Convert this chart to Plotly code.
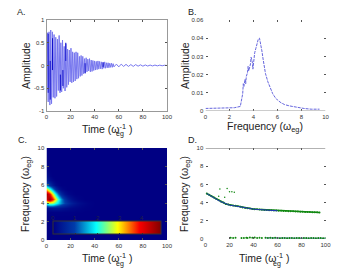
import plotly.graph_objects as go

# Panel A: successive extremes of the oscillation
a_time = [0,0.7,1.4,2.1,2.8,3.5,4.2,4.9,5.6,6.3,7,7.7,8.4,9.1,9.8,10.5,11.2,11.9,12.6,13.3,14,14.7,15.4,16.1,16.8,17.5,18.2,18.9,19.6,20.3,21,21.7,22.4,23.1,23.8,24.5,25.2,25.9,26.6,27.3,28,28.7,29.4,30.1,30.8,31.5,32.2,32.9,33.6,34.3,35,35.7,36.4,37.1,37.8,38.5,39.2,39.9,40.6,41.3,42,42.7,43.4,44.1,44.8,45.5,46.2,46.9,47.6,48.3,49,49.7,50.4,51.1,51.8,52.5,53.2,53.9,54.6,55.3,56,58,60,62,64,66,68,70,72,74,76,78,80,82,84,86,88,90,92,94,96,98,100]
a_amp = [0.1,0.72,-0.8,0.74,-0.87,0.78,-0.84,0.74,-0.7,0.68,-0.72,0.62,-0.68,0.58,-0.55,0.66,-0.6,0.5,-0.58,0.56,-0.5,0.42,-0.56,0.48,-0.48,0.36,-0.42,0.34,-0.36,0.38,-0.38,0.3,-0.36,0.28,-0.34,0.3,-0.3,0.28,-0.28,0.2,-0.24,0.22,-0.22,0.2,-0.18,0.15,-0.17,0.17,-0.14,0.14,-0.12,0.15,-0.14,0.12,-0.13,0.11,-0.11,0.1,-0.1,0.09,-0.09,0.1,-0.08,0.09,-0.07,0.08,-0.08,0.07,-0.06,0.08,-0.06,0.06,-0.05,0.06,-0.05,0.05,-0.04,0.05,-0.04,0.04,-0.03,0.03,-0.03,0.03,-0.02,0.025,-0.02,0.02,-0.02,0.02,-0.015,0.015,-0.015,0.012,-0.012,0.01,-0.01,0.01,-0.008,0.008,-0.006,0.006,0]
# darker overlapping strokes of panel A
a_dark_t = [1.4,1.4,None,3.1,3.1,None,5,5,None,11.5,11.5,None,13.6,13.6,None,16,16,None,32,32,None,47,47]
a_dark_y = [-0.6,0.7,None,-0.75,0.1,None,0.6,-0.1,None,-0.55,-0.2,None,-0.45,-0.1,None,0.5,0.1,None,-0.17,0.05,None,0.07,-0.03]

# Panel B: spectrum
b_freq = [0,0.6,1.2,1.8,2.4,2.9,3.0,3.1,3.15,3.2,3.3,3.35,3.4,3.5,3.55,3.6,3.7,3.75,3.8,3.9,3.95,4.0,4.1,4.2,4.3,4.4,4.5,4.6,4.7,4.8,4.9,5.0,5.2,5.4,5.6,5.8,6.0,6.3,6.6,7.0,7.4,7.8,8.2,8.8,9.5]
b_amp = [0.0014,0.0014,0.0018,0.0018,0.0018,0.0025,0.006,0.0095,0.015,0.0135,0.0175,0.015,0.019,0.021,0.0245,0.022,0.0245,0.026,0.0295,0.027,0.023,0.028,0.032,0.0345,0.037,0.0395,0.04,0.037,0.033,0.0285,0.0245,0.0205,0.016,0.0125,0.0095,0.0075,0.006,0.0045,0.0035,0.0028,0.0022,0.0018,0.0014,0.001,0.001]

# Panel C: time-frequency amplitude, sparse table
c_time = [0,2.5,5,7.5,10,12.5,15,17.5,20,22.5,25,27.5,30,32.5,35,37.5,40]
c_freq = [3,3.5,4,4.5,5,5.5,6,6.5,7,7.5,8]
c_z = [
 [0.02,0.03,0.04,0.04,0.04,0.04,0.03,0.03,0.02,0.02,0.01,0.01,0.01,0,0,0,0],
 [0.2,0.3,0.35,0.35,0.35,0.3,0.25,0.2,0.15,0.12,0.1,0.08,0.05,0.03,0.02,0.01,0],
 [2.2,2.6,2.5,2.1,1.7,1.3,1.0,0.75,0.55,0.4,0.28,0.2,0.14,0.09,0.05,0.03,0.01],
 [4.2,4.7,3.9,2.9,2.0,1.3,0.85,0.5,0.3,0.17,0.1,0.05,0.03,0,0,0,0],
 [4.6,4.0,2.9,1.9,1.1,0.6,0.3,0.15,0.08,0.03,0,0,0,0,0,0,0],
 [3.0,2.2,1.4,0.7,0.3,0.12,0.05,0,0,0,0,0,0,0,0,0,0],
 [1.2,0.8,0.4,0.15,0.05,0,0,0,0,0,0,0,0,0,0,0,0],
 [0.5,0.25,0.1,0,0,0,0,0,0,0,0,0,0,0,0,0,0],
 [0.25,0.08,0,0,0,0,0,0,0,0,0,0,0,0,0,0,0],
 [0.1,0.02,0,0,0,0,0,0,0,0,0,0,0,0,0,0,0],
 [0.04,0,0,0,0,0,0,0,0,0,0,0,0,0,0,0,0],
]
c_ticks = [0,1,2,3,4]
c_max = 4.84

# Panel D: instantaneous frequency ridges
d_green_t = [1,3,5,7,9,11,13,15,17,19,21,23,25,27,29,31,33,35,37,39,41,43,45,47,49,51,53,55,57,59,61,63,65,67,69,71,73,75,77,79,81,83,85,87,89,91,93,95]
d_green_f = [5.0,4.85,4.7,4.55,4.4,4.25,4.1,4.0,3.85,3.8,3.72,3.68,3.65,3.6,3.55,3.45,3.42,3.38,3.35,3.3,3.28,3.26,3.25,3.22,3.2,3.18,3.15,3.15,3.12,3.12,3.1,3.1,3.08,3.08,3.06,3.05,3.05,3.03,3.02,3.0,3.0,2.98,2.98,2.96,2.95,2.95,2.93,2.92]
d_blue_t = [1,4,8,12,16,20,24,28,32,36,40,44,48,52,56,60]
d_blue_f = [5.0,4.8,4.45,4.15,3.9,3.72,3.65,3.55,3.42,3.35,3.28,3.24,3.2,3.16,3.12,3.1]
d_low_t = [21,23,25,30,32,34,35,37,39,41,43,45,47,50,52,54,56,58,60,62,64,66,68,70,72,74,76,78,80,82,84,86,88,90,92,94,96,98,100]
d_low_f = [0.15,0.12,0.14,0.1,0.12,0.14,0.12,0.16,0.14,0.16,0.12,0.14,0.12,0.14,0.12,0.14,0.1,0.14,0.12,0.08,0.1,0.12,0.08,0.1,0.12,0.08,0.12,0.1,0.08,0.12,0.1,0.08,0.12,0.1,0.08,0.1,0.12,0.08,0.1]
d_lowblue_t = [50,55,60,65,70,75,80,85,90,95,100]
d_lowblue_f = [0.12,0.12,0.12,0.12,0.1,0.12,0.1,0.1,0.1,0.1,0.08]
d_stray_t = [12,18,20,22,24,11,16]
d_stray_f = [5.5,5.55,5.2,5.2,5.15,4.7,4.6]

fig = go.Figure()
W, H = 360, 270
def dom(x0, x1, y0, y1):
    return dict(x=[x0/W, x1/W], y=[1-y1/H, 1-y0/H])
P = {'':dom(46.5,167,20,111), '2':dom(205.5,325.5,20,111), '3':dom(46.5,167,148,240), '4':dom(205.5,325.5,148,239)}
INK = '#555555'
TICK = dict(size=6, family='Liberation Sans', color='#333333')

def ax(n, rng, dtick, which, d):
    return dict(domain=d, range=rng, dtick=dtick, tickfont=TICK, ticks='inside', ticklen=2, tickwidth=1,
                tickcolor=INK, showgrid=False, zeroline=False, showline=True, linecolor='#999999', linewidth=1,
                mirror='ticks', automargin=False, anchor=('y'+n) if which=='x' else ('x'+n))

layout = {}
spec = {
 '':  ([0,100],20,[-1,1],0.5),
 '2': ([0,10],2,[0,0.05],0.01),
 '3': ([0,100],20,[0,10],2),
 '4': ([0,100],20,[0,10],2),
}
for n,(xr,xd,yr,yd) in spec.items():
    layout['xaxis'+n] = ax(n,xr,xd,'x',P[n]['x'])
    layout['yaxis'+n] = ax(n,yr,yd,'y',P[n]['y'])
layout['yaxis2'].update(tickvals=[0,0.01,0.02,0.03,0.04,0.05], ticktext=['0','0.01','0.02','0.03','0.04','0.06'])
layout['yaxis']['tickvals'] = [-1,-0.5,0,0.5,1]
layout['yaxis']['ticktext'] = ['-1','-0.5','0','0.5','1']
for n in ('2','3','4'):
    layout['xaxis'+n].update(linecolor='rgba(255,255,255,0)')
    layout['yaxis'+n].update(linecolor='rgba(255,255,255,0)')

fig.add_trace(go.Scatter(x=a_time, y=a_amp, mode='lines', line=dict(color='#7777ee', width=1), xaxis='x', yaxis='y', showlegend=False))
fig.add_trace(go.Scatter(x=a_dark_t, y=a_dark_y, mode='lines', line=dict(color='#1111cc', width=1), xaxis='x', yaxis='y', showlegend=False))
fig.add_trace(go.Scatter(x=b_freq, y=b_amp, mode='lines', line=dict(color='#6666dd', width=1, dash='3px,1px'), xaxis='x2', yaxis='y2', showlegend=False))

# expand the sparse table onto the full grid
step_t, step_f = 2.5, 0.5
full_t = [i*step_t for i in range(41)]
full_f = [i*step_f for i in range(21)]
full_z = [[0.0]*41 for _ in full_f]
for fv, row in zip(c_freq, c_z):
    for tv, v in zip(c_time, row):
        full_z[int(round(fv/step_f))][int(round(tv/step_t))] = v
fig.add_trace(go.Heatmap(x=full_t, y=full_f, z=full_z, zmin=0, zmax=c_max, colorscale='Jet', zsmooth='best', xaxis='x3', yaxis='y3',
    colorbar=dict(orientation='h', thickness=12.5, thicknessmode='pixels', len=108, lenmode='pixels',
                  x=53/W, xanchor='left', y=1-235.5/H, yanchor='bottom', yref='paper', outlinecolor='#333333', outlinewidth=1,
                  tickvals=c_ticks, ticks='inside', ticklen=1, tickcolor='#333333', showticklabels=False, xpad=0, ypad=0)))

gm = dict(color='#118811', size=2)
fig.add_trace(go.Scatter(x=d_green_t, y=d_green_f, mode='lines+markers', line=dict(color='#118811', width=1.5), marker=gm, xaxis='x4', yaxis='y4', showlegend=False))
fig.add_trace(go.Scatter(x=d_blue_t, y=d_blue_f, mode='lines', line=dict(color='#2233bb', width=1), xaxis='x4', yaxis='y4', showlegend=False))
fig.add_trace(go.Scatter(x=d_lowblue_t, y=d_lowblue_f, mode='lines', line=dict(color='#5566cc', width=1), xaxis='x4', yaxis='y4', showlegend=False))
fig.add_trace(go.Scatter(x=d_low_t, y=d_low_f, mode='markers', marker=gm, xaxis='x4', yaxis='y4', showlegend=False))
fig.add_trace(go.Scatter(x=d_stray_t, y=d_stray_f, mode='markers', marker=dict(color='#118811', size=1.5), xaxis='x4', yaxis='y4', showlegend=False))

# top rule of panel D at frequency 10, baseline rule of panel B
fig.add_shape(type='line', xref='x4', yref='y4', x0=0, x1=100, y0=10, y1=10, line=dict(color='#666666', width=1))
fig.add_shape(type='line', xref='x2', yref='y2', x0=0, x1=10, y0=0, y1=0, line=dict(color='#999999', width=1))

anns = []
def note(txt, x, y, size, angle=0, color='#222222'):
    anns.append(dict(text=txt, x=x/W, y=1-y/H, xref='paper', yref='paper', showarrow=False, textangle=angle,
                     xanchor='center', yanchor='middle',
                     font=dict(size=size, family='Liberation Sans', color=color)))
for txt,x,y in [('A.',21,12),('B.',192,12),('C.',22,140),('D.',192,140)]:
    note(txt,x,y,9)
for x,y in [(107,128),(107,257),(264,257)]:
    note('Time (ω<sup>-1</sup> )',x,y,10.5)
note('Frequency (ω<sub>eg</sub>)',265,127,10.5)
note('Amplitude',26,65,10.5,-90)
note('Amplitude',185,65,10.5,-90)
note('Frequency (ω<sub>eg</sub>)',26,194,10.5,-90)
note('Frequency (ω<sub>eg</sub>)',185,194,10.5,-90)
for x,y in [(120,134),(120,264),(277,264)]:
    note('eg',x,y,7)
for t in c_ticks:
    note(str(t), 53+108*t/c_max, 217.5, 6, 0, '#222244')

fig.update_layout(width=W, height=H, margin=dict(l=0,r=0,t=0,b=0,autoexpand=False), paper_bgcolor='white', plot_bgcolor='white', showlegend=False, annotations=anns, **layout)
fig.write_html('out.html', post_script="document.body.style.margin='0';", config=dict(displayModeBar=False))
